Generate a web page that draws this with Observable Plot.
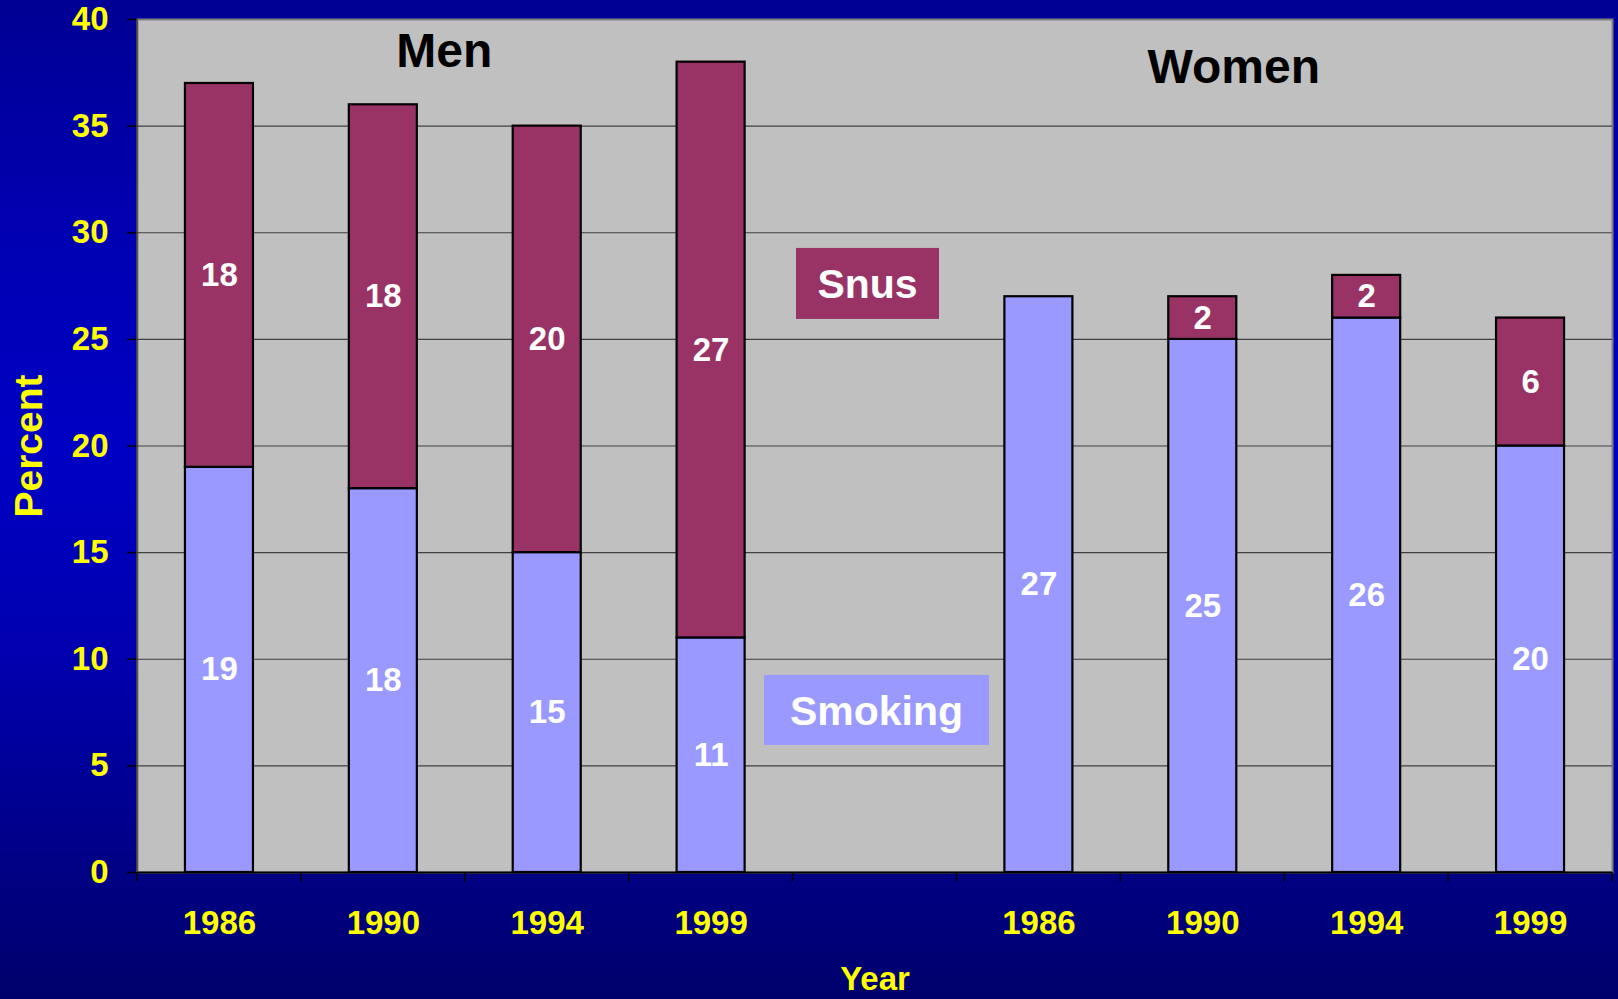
<!DOCTYPE html>
<html>
<head>
<meta charset="utf-8">
<script src="https://cdn.jsdelivr.net/npm/d3@7"></script>
<script src="https://cdn.jsdelivr.net/npm/@observablehq/plot@0.6"></script>
<style>
  html, body { margin: 0; padding: 0; }
  body {
    width: 1618px; height: 999px; overflow: hidden;
    background: linear-gradient(to bottom, #000094 0%, #0000B4 25%, #0000C4 45%, #0000B0 65%, #000088 85%, #00006C 100%);
    font-family: "Liberation Sans", Arial, sans-serif;
  }
  #chart svg { display: block; }
</style>
</head>
<body>
<div id="chart"></div>
<script>
// ---- data ----
const groups = ["Men", "Women"];
const years = ["1986", "1990", "1994", "1999"];
const series = ["Smoking", "Snus"];
const seriesColors = ["#9999FF", "#993366"];
const menSmoking = [19, 18, 15, 11];
const menSnus = [18, 18, 20, 27];
const womenSmoking = [27, 25, 26, 20];
const womenSnus = [0, 2, 2, 6];
const yTicks = [0, 5, 10, 15, 20, 25, 30, 35, 40];
const gridTicks = [5, 10, 15, 20, 25, 30, 35];
const yTitle = "Percent";
const xTitle = "Year";
// annotation positions (y in percent units)
const menTitle = {label: "Men", at: "Men 1990", y: 38.5};
const womenTitle = {label: "Women", at: "Women 1990", y: 37.75};
const legendItems = [
  {label: "Snus", color: "#993366", y: 27.6, w: 143, h: 71, dx: -7},
  {label: "Smoking", color: "#9999FF", y: 7.6, w: 225, h: 70, dx: 2}
];

// ---- build table ----
const gapCat = "gap";
const categories = [
  ...years.map(y => `Men ${y}`),
  gapCat,
  ...years.map(y => `Women ${y}`)
];
const catLabel = new Map(categories.map(c => [c, c === gapCat ? "" : c.split(" ")[1]]));
const values = {Men: {Smoking: menSmoking, Snus: menSnus}, Women: {Smoking: womenSmoking, Snus: womenSnus}};
const rows = [];
for (const g of groups) {
  for (const s of series) {
    years.forEach((y, i) => rows.push({cat: `${g} ${y}`, series: s, value: values[g][s][i]}));
  }
}
const barRows = rows.filter(d => d.value > 0);

const font = "'Liberation Sans', Arial, sans-serif";

// boundary ticks + left axis line, derived from the band scale
function boundaryTicks(index, scales, vals, dims) {
  const x = scales.x, y = scales.y;
  const bw = x.bandwidth(), step = x.step();
  const dom = x.domain();
  const pos = dom.map(d => x(d) - (step - bw) / 2);
  pos.push(x(dom[dom.length - 1]) + bw + (step - bw) / 2);
  const g = d3.create("svg:g");
  const y0 = y(0);
  g.selectAll("line.t").data(pos).join("line")
    .attr("x1", d => d).attr("x2", d => d)
    .attr("y1", y0).attr("y2", y0 + 10)
    .attr("stroke", "#000").attr("stroke-width", 1.5);
  g.append("line")
    .attr("x1", dims.marginLeft).attr("x2", dims.marginLeft)
    .attr("y1", dims.marginTop).attr("y2", y0)
    .attr("stroke", "#404040").attr("stroke-width", 1.5);
  return g.node();
}

function legendBoxes(index, scales, vals, dims) {
  const x = scales.x, y = scales.y;
  const cx0 = x(gapCat) + x.bandwidth() / 2;
  const g = d3.create("svg:g");
  for (const item of legendItems) {
    const cx = cx0 + item.dx, cy = y(item.y);
    g.append("rect")
      .attr("x", cx - item.w / 2).attr("y", cy - item.h / 2)
      .attr("width", item.w).attr("height", item.h)
      .attr("fill", item.color);
    g.append("text")
      .attr("x", cx).attr("y", cy).attr("dy", "0.36em")
      .attr("text-anchor", "middle")
      .attr("fill", "#FFFFFF")
      .attr("font-family", font)
      .attr("font-weight", "bold")
      .attr("font-size", 41)
      .text(item.label);
  }
  return g.node();
}

const plot = Plot.plot({
  width: 1618,
  height: 999,
  marginLeft: 137,
  marginRight: 6,
  marginTop: 19,
  marginBottom: 127,
  style: {background: "transparent", fontFamily: font, overflow: "visible", color: "#000"},
  x: {domain: categories, paddingInner: 0.585, paddingOuter: 0.2925, round: false, axis: null},
  y: {domain: [0, 40], axis: null},
  color: {domain: series, range: seriesColors},
  marks: [
    Plot.frame({fill: "#C0C0C0", stroke: "#808080", strokeWidth: 2}),
    Plot.ruleY(gridTicks, {stroke: "#404040", strokeWidth: 1.2}),
    Plot.axisY(yTicks, {
      ticks: yTicks, tickSize: 10, tickPadding: 19, stroke: "#000", strokeWidth: 1.5,
      fill: "#FFFF00", fontSize: 33, fontWeight: "bold", label: null
    }),
    Plot.axisX({
      tickSize: 0, tickPadding: 38, tickFormat: d => catLabel.get(d),
      fill: "#FFFF00", fontSize: 33, fontWeight: "bold", label: null
    }),
    Plot.barY(barRows, Plot.stackY({x: "cat", y: "value", fill: "series", z: "series", order: series, stroke: "#000", strokeWidth: 2.2})),
    Plot.ruleY([0], {stroke: "#000", strokeWidth: 2}),
    boundaryTicks,
    Plot.text(barRows, Plot.stackY({x: "cat", y: "value", z: "series", order: series, text: d => String(d.value),
      fill: "#FFFFFF", fontSize: 33, fontWeight: "bold", lineAnchor: "middle"})),
    Plot.text([menTitle], {x: "at", y: "y", dx: 61, text: "label", fill: "#000", fontSize: 48, fontWeight: "bold", lineAnchor: "middle"}),
    Plot.text([womenTitle], {x: "at", y: "y", dx: 31, text: "label", fill: "#000", fontSize: 48, fontWeight: "bold", lineAnchor: "middle"}),
    legendBoxes,
    Plot.text([yTitle], {frameAnchor: "left", dx: -108, rotate: -90, textAnchor: "middle", text: d => d, fill: "#FFFF00", fontSize: 39, fontWeight: "bold", lineAnchor: "middle"}),
    Plot.text([xTitle], {frameAnchor: "bottom", dy: 94, textAnchor: "middle", text: d => d, fill: "#FFFF00", fontSize: 33, fontWeight: "bold", lineAnchor: "top"})
  ]
});
document.getElementById("chart").appendChild(plot);
</script>
</body>
</html>
